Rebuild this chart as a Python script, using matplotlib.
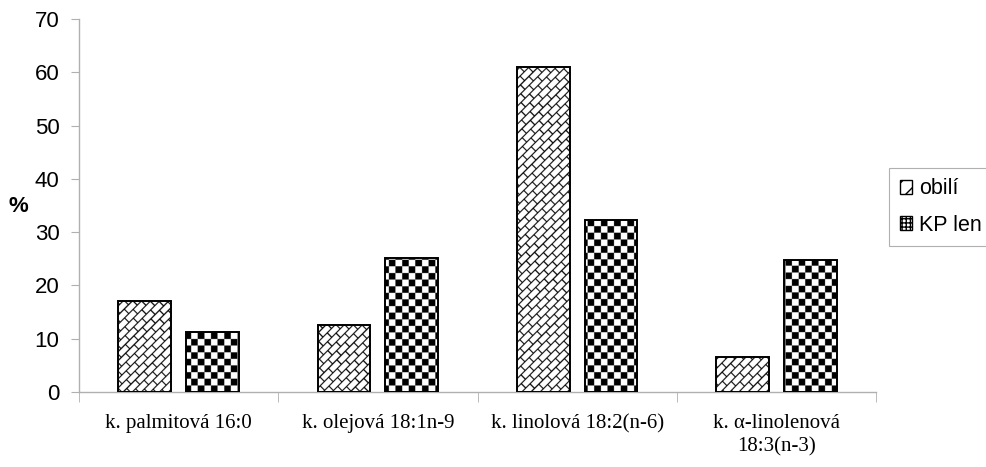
import matplotlib

matplotlib.use("Agg")
import matplotlib.pyplot as plt
import numpy as np
from matplotlib.patches import Patch

# ---- Data ----
categories = [
    "k. palmitová 16:0",
    "k. olejová 18:1n-9",
    "k. linolová 18:2(n-6)",
    "k. α-linolenová\n18:3(n-3)",
]
obili = [17.0, 12.6, 61.0, 6.6]
kp_len = [11.2, 25.1, 32.3, 24.8]
series_names = ["obilí", "KP len"]
yticks = [0, 10, 20, 30, 40, 50, 60, 70]

W, H, DPI = 986, 467, 100
fig = plt.figure(figsize=(W / DPI, H / DPI), dpi=DPI)
ax_l, ax_r, ax_b, ax_t = 79, 876, 392, 19
ax = fig.add_axes([ax_l / W, 1 - ax_b / H, (ax_r - ax_l) / W, (ax_b - ax_t) / H])

XLIM = (-0.5, len(categories) - 0.5)
YLIM = (0, 70)

# ---- fill patterns (supersampled, in axes pixel units) ----
SS = 4
nx, ny = ax_r - ax_l, ax_b - ax_t
X, Y = np.meshgrid((np.arange(nx * SS) + 0.5) / SS, (np.arange(ny * SS) + 0.5) / SS)

cell = 6.6
checker = ((np.floor(X / cell) + np.floor(Y / cell)) % 2).astype(float)

# diagonal brick
pv, pu, lw = 6.4, 12.0, 1.1
v = (Y - X) / np.sqrt(2)
u = (X + Y) / np.sqrt(2)
k = np.floor(v / pv)
lines = (v % pv) < lw
segs = ((u + (k % 2) * pu / 2) % pu) < lw
brick = np.where(lines | segs, 0.0, 1.0)

x = np.arange(len(categories))
width = 0.265
off = 0.17


def patterned_bars(xs, vals, img):
    bars = ax.bar(xs, vals, width, facecolor="none", edgecolor="black",
                  linewidth=1.4, zorder=3)
    for b in bars:
        im = ax.imshow(img, extent=(XLIM[0], XLIM[1], YLIM[0], YLIM[1]),
                       origin="lower", cmap="gray", vmin=0, vmax=1,
                       interpolation="antialiased", aspect="auto", zorder=2)
        im.set_clip_path(b)
    return bars


patterned_bars(x - off, obili, brick)
patterned_bars(x + off, kp_len, checker)

ax.set_xlim(*XLIM)
ax.set_ylim(*YLIM)

# ---- axes styling ----
for s in ["top", "right"]:
    ax.spines[s].set_visible(False)
for s in ["left", "bottom"]:
    ax.spines[s].set_color("#b0b0b0")
    ax.spines[s].set_linewidth(1.0)

ax.set_yticks(yticks)
ax.set_yticklabels([str(t) for t in yticks], fontfamily="Liberation Sans", fontsize=16)
ax.tick_params(axis="y", length=6, color="#b0b0b0", pad=8)

ax.set_xticks(x)
ax.set_xticklabels(categories, fontfamily="Liberation Serif", fontsize=15,
                   linespacing=1.3)
ax.set_xticks(np.arange(len(categories) + 1) - 0.5, minor=True)
ax.tick_params(axis="x", which="major", length=0, pad=16)
ax.tick_params(axis="x", which="minor", length=7, color="#b0b0b0")

fig.text(18 / W, 1 - 207 / H, "%", fontfamily="Liberation Sans", fontsize=16,
         fontweight="bold", ha="center", va="center")

handles = [
    Patch(facecolor="white", edgecolor="black", hatch="//", label=series_names[0]),
    Patch(facecolor="white", edgecolor="black", hatch="++++", label=series_names[1]),
]
leg = ax.legend(handles=handles, loc="center left", bbox_to_anchor=(1.016, 0.496),
                fancybox=False, edgecolor="#b0b0b0", framealpha=1,
                handlelength=0.6, handleheight=0.6, handletextpad=0.3,
                labelspacing=0.7, borderpad=0.5, borderaxespad=0,
                prop={"family": "Liberation Sans", "size": 15.5})
leg.get_frame().set_linewidth(0.8)

fig.savefig("out.png", dpi=DPI)
